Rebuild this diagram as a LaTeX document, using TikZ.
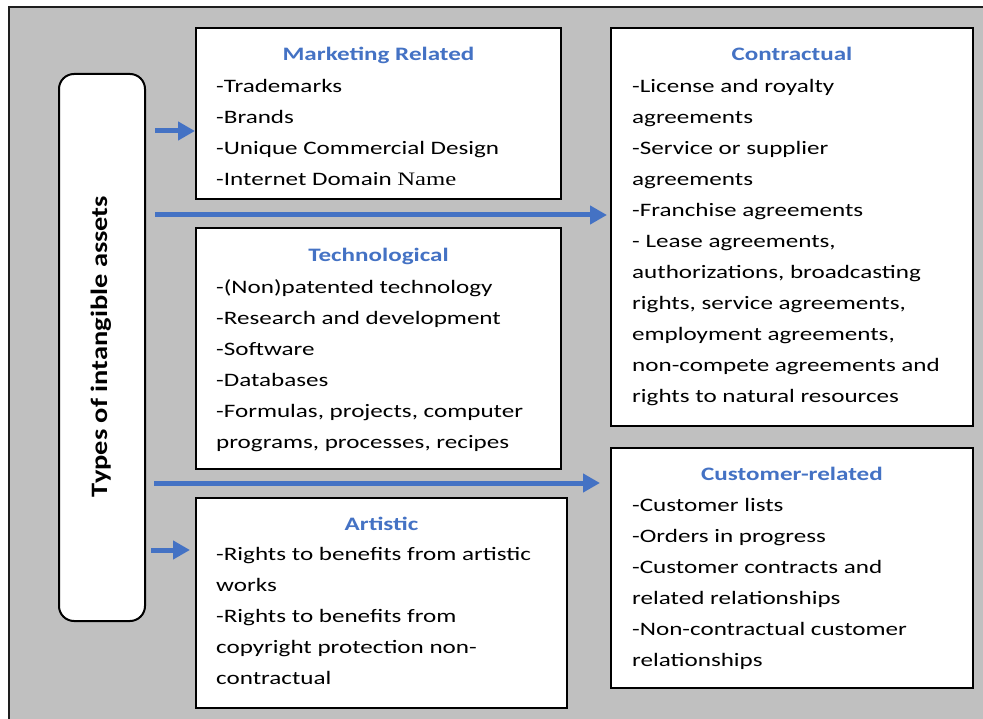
\documentclass[tikz,border=0pt]{standalone}
\usepackage{fontspec}
\setmainfont{Carlito}
\newfontfamily\bodyfont[FakeStretch=1.32]{Carlito}
\newfontfamily\namefont[FakeStretch=1.3]{Liberation Serif}
\newfontfamily\labelfont[FakeStretch=1.21]{Carlito}
\usetikzlibrary{arrows.meta}
\definecolor{panelgray}{RGB}{192,192,192}
\definecolor{accentblue}{RGB}{68,114,196}
\definecolor{framedark}{RGB}{30,30,30}

\begin{document}
\begin{tikzpicture}[x=1pt,y=-1pt,
  box/.style={draw=black, line width=2pt, fill=white, anchor=north west, inner sep=0pt},
  heading/.style={anchor=base, inner sep=0pt, text=accentblue,
    font=\bodyfont\bfseries\fontsize{19}{31}\selectfont},
  body/.style={anchor=north west, inner sep=0pt, align=left,
    font=\bodyfont\fontsize{19}{31}\selectfont},
  flow/.style={draw=accentblue, line width=5pt,
    -{Triangle[length=17pt,width=18pt]}},
]
\useasboundingbox (0,0) rectangle (983,719);

% grey panel with its frame
\begin{scope}
  \clip (0,0) rectangle (983,719);
  \fill[panelgray] (9,7) rectangle (995,730);
  \draw[framedark, line width=2.5pt] (9,730) -- (9,7) -- (995,7);
\end{scope}

% category boxes
\node[box, minimum width=365pt, minimum height=171pt] (mkt) at (195,27) {};
\node[box, minimum width=362pt, minimum height=398pt] (contr) at (610,27) {};
\node[box, minimum width=365pt, minimum height=241pt] (tech) at (195,227) {};
\node[box, minimum width=371pt, minimum height=210pt] (art) at (195,497) {};
\node[box, minimum width=362pt, minimum height=240pt] (cust) at (610,447) {};

% rounded label box
\node[box, rounded corners=15pt, minimum width=86pt, minimum height=547pt] (types) at (58,73) {};
\node[rotate=90, anchor=base, inner sep=0pt,
  font=\labelfont\bfseries\fontsize{23.5}{28}\selectfont] (types-label) at (107,346.5)
  {Types of intangible assets};

% headings
\node[heading] (mkt-title) at (mkt.north |- 0,61) {Marketing Related};
\node[heading] (contr-title) at (contr.north |- 0,61) {Contractual};
\node[heading] (tech-title) at (tech.north |- 0,262) {Technological};
\node[heading] (art-title) at (art.north |- 0,530) {Artistic};
\node[heading] (cust-title) at (cust.north |- 0,480) {Customer-related};

% item lists
\node[body] (mkt-list) at (216,70) {\rule{0pt}{22pt}-Trademarks\\-Brands\\-Unique Commercial Design\\-Internet Domain {\namefont Name}};
\node[body] (contr-list) at (632,70) {\rule{0pt}{22pt}-License and royalty\\agreements\\-Service or supplier\\agreements\\-Franchise agreements\\- Lease agreements,\\authorizations, broadcasting\\rights, service agreements,\\employment agreements,\\non-compete agreements and\\rights to natural resources};
\node[body] (tech-list) at (216,271) {\rule{0pt}{22pt}-(Non)patented technology\\-Research and development\\-Software\\-Databases\\-Formulas, projects, computer\\programs, processes, recipes};
\node[body] (art-list) at (216,538) {\rule{0pt}{22pt}-Rights to benefits from artistic\\works\\-Rights to benefits from\\copyright protection non-\\contractual};
\node[body] (cust-list) at (632,489) {\rule{0pt}{22pt}-Customer lists\\-Orders in progress\\-Customer contracts and\\related relationships\\-Non-contractual customer\\relationships};

% arrows
\coordinate (m-start) at (155,131);
\draw[flow] (m-start) -- (m-start -| mkt.west);
\coordinate (c-start) at (155,215);
\draw[flow, shorten >=3pt] (c-start) -- (c-start -| contr.west);
\coordinate (u-start) at (154,483);
\draw[flow, shorten >=10pt] (u-start) -- (u-start -| cust.west);
\coordinate (a-start) at (151,550);
\draw[flow, shorten >=5pt] (a-start) -- (a-start -| art.west);
\end{tikzpicture}
\end{document}
